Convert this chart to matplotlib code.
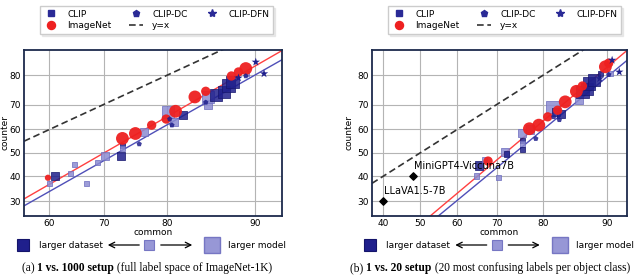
import math
import numpy as np
import matplotlib
matplotlib.use("Agg")
import matplotlib.pyplot as plt
from matplotlib.lines import Line2D

# ---------------- data (accuracy, %) ----------------
# (a) 1 vs. 1000 setup
a_clip_x = [60, 61, 64, 64.7, 67, 69, 70.3, 72.9, 73.2, 73.2, 76.6, 80.2, 81, 82.2,
            85.3, 85.3, 86.2, 87, 87.5, 87.9, 89.3]
a_clip_y = [37, 40, 41, 45, 37, 45.7, 48.7, 48.7, 53, 52, 59, 67, 63, 66,
            70, 72.8, 73.4, 74.6, 76.8, 77.8, 80.5]
a_clip_model = [1, 2, 1, 1, 1, 1, 2, 2, 1, 1, 2, 3, 2, 2, 2, 3, 3, 3, 3, 3, 1]
a_clip_data = [0, 1, 0, 0, 0, 0, 0, 1, 1, 0, 0, 0, 0, 1, 0, 0, 1, 1, 1, 1, 0]
a_dc_x = [75.9, 80.4, 80.7, 85, 89.2]
a_dc_y = [53.8, 64.3, 61.8, 70.8, 79.8]
a_dfn_x = [88.5, 90.1, 90.8]
a_dfn_y = [79.2, 83.8, 80.5]
a_in_x = [59.7, 73.2, 75.3, 77.8, 79.9, 81.2, 83.7, 85, 87.8, 88.5, 89.2]
a_in_y = [39.3, 56.2, 58.3, 61.8, 64.3, 67.4, 72.8, 74.8, 79.8, 81, 82]
a_in_model = [1, 3, 3, 2, 2, 3, 3, 2, 2, 2, 3]
a_fit_in = [55, 30.8, 92, 86.3]
a_fit_clip = [55, 28.2, 92, 84]

# (b) 1 vs. 20 setup
b_clip_x = [65, 65.6, 67, 70.5, 72, 72.2, 75.8, 75.8, 75.8, 75.8, 77.5, 81.8, 82.4,
            83.3, 86.2, 86.7, 87.4, 87.7, 88.3, 89.2, 90.4]
b_clip_y = [40, 44.5, 47, 39.5, 50.5, 49.5, 58.6, 55.2, 53.8, 51.5, 60, 69, 67,
            66.5, 71.6, 74.6, 75.7, 77.4, 78.5, 80.5, 80.5]
b_clip_model = [1, 2, 1, 1, 2, 1, 2, 1, 1, 1, 2, 3, 2, 2, 2, 3, 3, 3, 3, 1, 1]
b_clip_data = [0, 1, 0, 0, 0, 1, 0, 1, 0, 1, 0, 0, 1, 1, 0, 1, 1, 1, 1, 1, 0]
b_dc_x = [78.6, 82, 83, 90.2]
b_dc_y = [56.1, 65.2, 64, 80.2]
b_dfn_x = [89.1, 90.6, 91.4]
b_dfn_y = [79, 84.3, 81]
b_in_x = [67.9, 77.3, 79.2, 80.9, 82.7, 84, 85.8, 86.7, 89.8, 90.2]
b_in_y = [46.4, 60.3, 61.8, 65.2, 67.8, 71, 74.8, 76.6, 82.5, 83.5]
b_in_model = [2, 3, 3, 2, 2, 3, 3, 2, 3, 2]
b_fit_in = [52.7, 24.6, 92, 86.3]
b_fit_clip = [54.9, 24.6, 92, 83.8]
b_mllm_names = ["LLaVA1.5-7B", "MiniGPT4-Viccuna7B"]
b_mllm_x = [40, 48]
b_mllm_y = [30, 40]

# ---------------- probit scale ----------------
_z = np.linspace(-6, 6, 3001)
_p = np.array([0.5 * (1 + math.erf(v / math.sqrt(2))) for v in _z])


def fwd(x):
    return np.interp(np.asarray(x, dtype=float) / 100.0, _p, _z)


def inv(z):
    return 100.0 * np.interp(np.asarray(z, dtype=float), _z, _p)


plt.rcParams['font.family'] = 'DejaVu Sans'

FS = 6.5
NAVY = '#1f1f8c'
LIGHT = '#8c8cd2'
RED = '#ee2020'
SQ_SIZE = {1: 14, 2: 34, 3: 78}
CI_SIZE = {1: 20, 2: 45, 3: 85}

W, H = 640, 280
fig = plt.figure(figsize=(W / 100, H / 100), dpi=100)


def fit_line(ax, pts, color):
    x0, y0, x1, y1 = pts
    k = (fwd(y1) - fwd(y0)) / (fwd(x1) - fwd(x0))
    xs = np.array(ax.get_xlim())
    ys = inv(fwd(y0) + k * (fwd(xs) - fwd(x0)))
    ax.plot(xs, ys, color=color, lw=1.0, zorder=2)


def panel(rect, xlim, xticks, clip, dc, dfn, imnet, fits, ylab_x):
    ax = fig.add_axes(rect)
    ax.set_xscale('function', functions=(fwd, inv))
    ax.set_yscale('function', functions=(fwd, inv))
    ax.set_xlim(*xlim)
    ax.set_ylim(24.6, 86.8)
    ax.set_xticks(xticks)
    ax.set_yticks([30, 40, 50, 60, 70, 80])
    ax.minorticks_off()
    ax.grid(True, color='#b4b4b4', lw=0.8)
    ax.set_axisbelow(True)
    for s in ax.spines.values():
        s.set_color('#1c2a4c')
        s.set_linewidth(1.3)
    ax.tick_params(labelsize=FS, length=0, pad=2.5)
    ax.set_xlabel('common', fontsize=FS, labelpad=0)
    ax.set_ylabel('counter', fontsize=FS)
    ax.yaxis.set_label_coords(ylab_x, 0.5)

    lo = xlim[0]
    ax.plot([lo, 99], [lo, 99], ls=(0, (4, 2.2)), color='#333333', lw=1.2, zorder=2)
    fit_line(ax, fits[1], '#4f4fb8')
    fit_line(ax, fits[0], '#ff4040')

    cx, cy, cm, cd = clip
    cols = [NAVY if d else LIGHT for d in cd]
    edges = ['#16166e' if d else '#6d6dbf' for d in cd]
    ax.scatter(cx, cy, s=[SQ_SIZE[m] for m in cm], marker='s', c=cols,
               edgecolors=edges, linewidths=0.6, alpha=0.85, zorder=3)
    ix, iy, im = imnet
    ax.scatter(ix, iy, s=[CI_SIZE[m] for m in im], marker='o', c=RED,
               edgecolors='none', alpha=0.95, zorder=4)
    ax.scatter(dc[0], dc[1], s=16, marker='p', c=NAVY, alpha=0.85,
               edgecolors='none', zorder=5)
    ax.scatter(dfn[0], dfn[1], s=40, marker='*', c=NAVY, edgecolors='none',
               zorder=5)
    return ax


def legend(ax, cx):
    handles = [
        Line2D([], [], ls='none', marker='s', ms=5, color='#2a2a96'),
        Line2D([], [], ls='none', marker='o', ms=5.8, color=RED),
        Line2D([], [], ls='none', marker='p', ms=5, color='#2a2a96'),
        Line2D([], [], ls=(0, (4, 2.2)), lw=1.2, color='#333333'),
        Line2D([], [], ls='none', marker='*', ms=6, color='#2a2a96'),
    ]
    labels = ['CLIP', 'ImageNet', 'CLIP-DC', 'y=x', 'CLIP-DFN']
    ax.legend(handles, labels, loc='center', ncol=3, fontsize=FS,
              bbox_to_anchor=(cx / W, 1 - 20 / H), bbox_transform=fig.transFigure,
              frameon=True, fancybox=False, edgecolor='#cccccc',
              shadow={'color': '#d8d8d8', 'ox': 1.5, 'oy': -1.5},
              columnspacing=1.9, handlelength=1.6, handletextpad=1.0,
              borderpad=0.45, labelspacing=0.3)


ax_a = panel([24 / W, 1 - 216 / H, 258 / W, 166 / H], (55, 92.2), [60, 70, 80, 90],
             (a_clip_x, a_clip_y, a_clip_model, a_clip_data), (a_dc_x, a_dc_y),
             (a_dfn_x, a_dfn_y), (a_in_x, a_in_y, a_in_model), (a_fit_in, a_fit_clip),
             -0.058)
legend(ax_a, 156.5)

ax_b = panel([372 / W, 1 - 216 / H, 255 / W, 166 / H], (37, 92.2),
             [40, 50, 60, 70, 80, 90],
             (b_clip_x, b_clip_y, b_clip_model, b_clip_data), (b_dc_x, b_dc_y),
             (b_dfn_x, b_dfn_y), (b_in_x, b_in_y, b_in_model), (b_fit_in, b_fit_clip),
             -0.072)
legend(ax_b, 504.5)
ax_b.scatter(b_mllm_x, b_mllm_y, marker='D', s=14, c='black', zorder=6)
for name, x, y in zip(b_mllm_names, b_mllm_x, b_mllm_y):
    ax_b.annotate(name, (x, y), xytext=(0.5, 3.5), textcoords='offset points',
                  fontsize=FS + 0.5, va='bottom', ha='left', zorder=6)

# ---------------- size / colour key under each panel ----------------
key = fig.add_axes([0, 0, 1, 1], facecolor='none')
key.set_xlim(0, W)
key.set_ylim(H, 0)
key.axis('off')
for x0 in (0, 347.5):
    yk = 245
    key.plot(x0 + 22.7, yk, 's', ms=8.6, color=NAVY, mec='#14146a', mew=0.8)
    key.text(x0 + 39, yk, 'larger dataset', fontsize=FS, va='center', ha='left')
    key.plot(x0 + 149, yk, 's', ms=7.2, color=LIGHT, mec='#6d6dbf', mew=0.8, alpha=0.9)
    key.plot(x0 + 212, yk, 's', ms=11.5, color=LIGHT, mec='#6d6dbf', mew=1.0, alpha=0.9)
    key.text(x0 + 228, yk, 'larger model', fontsize=FS, va='center', ha='left')
    key.annotate('', xy=(x0 + 105, yk), xytext=(x0 + 142, yk),
                 arrowprops=dict(arrowstyle='->', lw=0.9, color='black'))
    key.annotate('', xy=(x0 + 195, yk), xytext=(x0 + 158, yk),
                 arrowprops=dict(arrowstyle='->', lw=0.9, color='black'))

# ---------------- captions (regular / bold / regular pieces) ----------------
renderer = fig.canvas.get_renderer()


def caption(x_px, parts, ha):
    texts = []
    for s, w in parts:
        t = fig.text(0, 1 - 268 / H, s, fontsize=8.3, fontfamily='Liberation Serif',
                     fontweight=w, va='center', ha='left')
        texts.append(t)
    widths = [t.get_window_extent(renderer).width for t in texts]
    x = x_px - (sum(widths) / 2 if ha == 'center' else 0)
    for t, w in zip(texts, widths):
        t.set_x(x / W)
        x += w


caption(147, [('(a) ', 'normal'), ('1 vs. 1000 setup', 'bold'),
              (' (full label space of ImageNet-1K)', 'normal')], 'center')
caption(350, [('(b) ', 'normal'), ('1 vs. 20 setup', 'bold'),
              (' (20 most confusing labels per object class)', 'normal')], 'left')

fig.savefig('out.png', dpi=100)
